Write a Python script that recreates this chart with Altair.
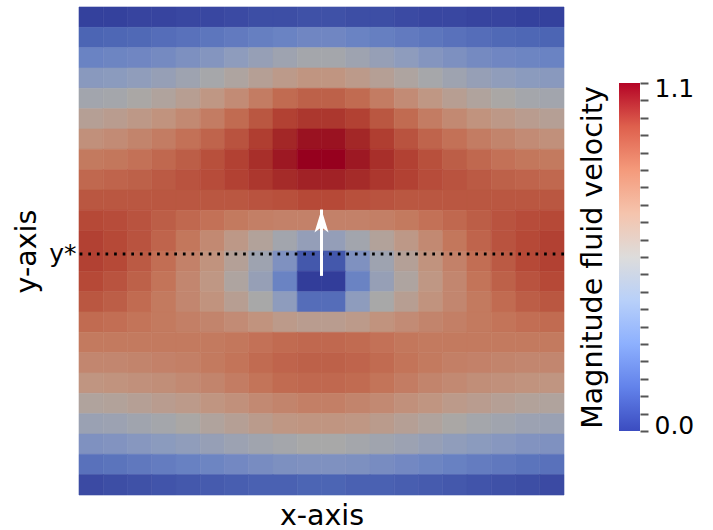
import altair as alt
import pandas as pd

# Velocity magnitude, 24 rows (top -> bottom) x 20 columns (left -> right)
values = [
    [0.03, 0.03, 0.04, 0.04, 0.05, 0.05, 0.06, 0.07, 0.07, 0.08, 0.08, 0.07, 0.07, 0.06, 0.05, 0.05, 0.04, 0.04, 0.03, 0.03],
    [0.14, 0.15, 0.16, 0.18, 0.20, 0.22, 0.24, 0.26, 0.28, 0.30, 0.30, 0.28, 0.26, 0.24, 0.22, 0.20, 0.18, 0.16, 0.15, 0.14],
    [0.28, 0.29, 0.30, 0.32, 0.35, 0.38, 0.42, 0.46, 0.50, 0.53, 0.53, 0.50, 0.46, 0.42, 0.38, 0.35, 0.32, 0.30, 0.29, 0.28],
    [0.40, 0.41, 0.43, 0.46, 0.50, 0.54, 0.58, 0.62, 0.66, 0.69, 0.69, 0.66, 0.62, 0.58, 0.54, 0.50, 0.46, 0.43, 0.41, 0.40],
    [0.52, 0.53, 0.56, 0.59, 0.63, 0.68, 0.73, 0.79, 0.85, 0.88, 0.88, 0.85, 0.79, 0.73, 0.68, 0.63, 0.59, 0.56, 0.53, 0.52],
    [0.62, 0.64, 0.67, 0.70, 0.74, 0.79, 0.85, 0.91, 0.97, 1.00, 1.00, 0.97, 0.91, 0.85, 0.79, 0.74, 0.70, 0.67, 0.64, 0.62],
    [0.71, 0.73, 0.76, 0.79, 0.83, 0.87, 0.92, 0.98, 1.04, 1.08, 1.08, 1.04, 0.98, 0.92, 0.87, 0.83, 0.79, 0.76, 0.73, 0.71],
    [0.80, 0.81, 0.83, 0.86, 0.89, 0.93, 0.97, 1.02, 1.07, 1.10, 1.10, 1.07, 1.02, 0.97, 0.93, 0.89, 0.86, 0.83, 0.81, 0.80],
    [0.86, 0.87, 0.88, 0.90, 0.92, 0.94, 0.97, 1.00, 1.03, 1.05, 1.05, 1.03, 1.00, 0.97, 0.94, 0.92, 0.90, 0.88, 0.87, 0.86],
    [0.91, 0.91, 0.91, 0.91, 0.91, 0.91, 0.91, 0.92, 0.93, 0.95, 0.95, 0.93, 0.92, 0.91, 0.91, 0.91, 0.91, 0.91, 0.91, 0.91],
    [0.95, 0.94, 0.92, 0.89, 0.86, 0.83, 0.80, 0.78, 0.77, 0.77, 0.77, 0.77, 0.78, 0.80, 0.83, 0.86, 0.89, 0.92, 0.94, 0.95],
    [0.97, 0.95, 0.92, 0.87, 0.81, 0.74, 0.67, 0.60, 0.52, 0.45, 0.45, 0.52, 0.60, 0.67, 0.74, 0.81, 0.87, 0.92, 0.95, 0.97],
    [0.97, 0.95, 0.90, 0.84, 0.77, 0.70, 0.61, 0.50, 0.36, 0.10, 0.10, 0.36, 0.50, 0.61, 0.70, 0.77, 0.84, 0.90, 0.95, 0.97],
    [0.95, 0.92, 0.88, 0.82, 0.75, 0.68, 0.58, 0.46, 0.28, 0.02, 0.02, 0.28, 0.46, 0.58, 0.68, 0.75, 0.82, 0.88, 0.92, 0.95],
    [0.91, 0.89, 0.85, 0.80, 0.75, 0.70, 0.63, 0.55, 0.42, 0.18, 0.18, 0.42, 0.55, 0.63, 0.70, 0.75, 0.80, 0.85, 0.89, 0.91],
    [0.85, 0.84, 0.82, 0.80, 0.78, 0.76, 0.73, 0.70, 0.66, 0.64, 0.64, 0.66, 0.70, 0.73, 0.76, 0.78, 0.80, 0.82, 0.84, 0.85],
    [0.80, 0.80, 0.80, 0.80, 0.80, 0.80, 0.81, 0.83, 0.85, 0.86, 0.86, 0.85, 0.83, 0.81, 0.80, 0.80, 0.80, 0.80, 0.80, 0.80],
    [0.75, 0.75, 0.76, 0.77, 0.78, 0.80, 0.82, 0.85, 0.87, 0.88, 0.88, 0.87, 0.85, 0.82, 0.80, 0.78, 0.77, 0.76, 0.75, 0.75],
    [0.69, 0.70, 0.71, 0.72, 0.74, 0.76, 0.79, 0.82, 0.85, 0.86, 0.86, 0.85, 0.82, 0.79, 0.76, 0.74, 0.72, 0.71, 0.70, 0.69],
    [0.59, 0.60, 0.62, 0.64, 0.66, 0.69, 0.71, 0.74, 0.76, 0.78, 0.78, 0.76, 0.74, 0.71, 0.69, 0.66, 0.64, 0.62, 0.60, 0.59],
    [0.48, 0.49, 0.51, 0.53, 0.56, 0.59, 0.62, 0.65, 0.68, 0.69, 0.69, 0.68, 0.65, 0.62, 0.59, 0.56, 0.53, 0.51, 0.49, 0.48],
    [0.36, 0.37, 0.39, 0.41, 0.43, 0.46, 0.49, 0.51, 0.53, 0.55, 0.55, 0.53, 0.51, 0.49, 0.46, 0.43, 0.41, 0.39, 0.37, 0.36],
    [0.20, 0.21, 0.23, 0.25, 0.27, 0.29, 0.31, 0.33, 0.35, 0.36, 0.36, 0.35, 0.33, 0.31, 0.29, 0.27, 0.25, 0.23, 0.21, 0.20],
    [0.06, 0.07, 0.08, 0.09, 0.10, 0.11, 0.12, 0.13, 0.13, 0.14, 0.14, 0.13, 0.13, 0.12, 0.11, 0.10, 0.09, 0.08, 0.07, 0.06],
]

y_star = [0.494]            # dotted reference line (fraction of the domain height)
arrow_x = [0.5]             # sphere centre / arrow
arrow_y_start = [0.449]
arrow_y_tip = [0.585]

vmin, vmax = 0.0, 1.1
colorbar_ticks = [0.0, 0.055, 0.11, 0.165, 0.22, 0.275, 0.33, 0.385, 0.44, 0.495, 0.55,
                  0.605, 0.66, 0.715, 0.77, 0.825, 0.88, 0.935, 0.99, 1.045, 1.1]

# shaded cool-to-warm used for the rendered field, plain cool-to-warm for the bar
field_stops = [0.0, 0.1375, 0.275, 0.4125, 0.55, 0.6875, 0.825, 0.9625, 1.1]
field_colors = ["#2d3796", "#4b64b4", "#6982c3", "#8c9bbe", "#a8a8a8",
                "#c09682", "#c37358", "#b44434", "#96001e"]
bar_offsets = [0.0, 0.125, 0.25, 0.375, 0.5, 0.625, 0.75, 0.875, 1.0]
bar_colors = ["#3b4cc0", "#6282ea", "#8db0fe", "#b8d0f9", "#dddcdb",
              "#f5c4ad", "#f49a7b", "#de604d", "#b40426"]

FONT = "DejaVu Sans"

n_rows = len(values)
n_cols = len(values[0])
records = []
for r, row in enumerate(values):
    for c, v in enumerate(row):
        records.append({
            "x0": c / n_cols, "x1": (c + 1) / n_cols,
            "y0": 1 - (r + 1) / n_rows, "y1": 1 - r / n_rows,
            "v": v,
        })
field_df = pd.DataFrame(records)

unit = alt.Scale(domain=[0, 1], nice=False, zero=False)
field_scale = alt.Scale(domain=field_stops, range=field_colors, interpolate="lab")

heat = alt.Chart(field_df).mark_rect(strokeWidth=0.6).encode(
    x=alt.X("x0:Q", scale=unit, axis=alt.Axis(
        title="x-axis", labels=False, ticks=False, domain=False, grid=False,
        titleFontSize=28.5, titleFontWeight="normal", titleColor="black", titlePadding=6)),
    x2="x1:Q",
    y=alt.Y("y0:Q", scale=unit, axis=alt.Axis(
        title="y-axis", values=y_star, labelExpr="'y*'", ticks=False, domain=False, grid=False,
        labelFontSize=25, labelColor="black", labelPadding=3,
        titleFontSize=28.5, titleFontWeight="normal", titleColor="black", titlePadding=7)),
    y2="y1:Q",
    color=alt.Color("v:Q", scale=field_scale, legend=None),
    stroke=alt.Stroke("v:Q", scale=field_scale, legend=None),
)

line_df = pd.DataFrame({"y0": y_star})
dotted = alt.Chart(line_df).mark_rule(color="black", strokeWidth=3, strokeDash=[2.7, 5.9]).encode(
    y=alt.Y("y0:Q")
)

arrow_df = pd.DataFrame({"x0": arrow_x, "y0": arrow_y_start, "y1": arrow_y_tip})
shaft = alt.Chart(arrow_df).mark_rule(color="white", strokeWidth=3).encode(
    x=alt.X("x0:Q"), y=alt.Y("y0:Q"), y2="y1:Q"
)
head = alt.Chart(arrow_df).mark_point(
    shape="M0,0 L0.55,1.8 L0,1.4 L-0.55,1.8 Z", filled=True, color="white", opacity=1, size=650
).encode(x=alt.X("x0:Q"), y=alt.Y("y1:Q"))

field_chart = alt.layer(heat, dotted, shaft, head).properties(width=485, height=488)

# colour bar
bar_df = pd.DataFrame({"lo": [vmin], "hi": [vmax], "a": [0.0], "b": [1.0]})
grad = alt.LinearGradient(
    gradient="linear", x1=0, x2=0, y1=1, y2=0,
    stops=[alt.GradientStop(color=c, offset=o) for o, c in zip(bar_offsets, bar_colors)],
)
bar_scale = alt.Scale(domain=[-0.2023, 1.3402], nice=False, zero=False)
bar_x = alt.X("a:Q", scale=alt.Scale(domain=[0, 1], nice=False, zero=False), axis=None)
bar_left = alt.Chart(bar_df).mark_rect(color=grad).encode(
    x=bar_x, x2="b:Q",
    y=alt.Y("lo:Q", scale=bar_scale, axis=alt.Axis(
        orient="left", title="Magnitude fluid velocity", labels=False, ticks=False,
        domain=False, grid=False, titleFontSize=28.5, titleFontWeight="normal",
        titleColor="black", titlePadding=12, titleY=250)),
    y2="hi:Q",
)
bar_right = alt.Chart(bar_df).mark_rect(color=grad).encode(
    x=bar_x, x2="b:Q",
    y=alt.Y("lo:Q", scale=bar_scale, axis=alt.Axis(
        orient="right", title=None, values=colorbar_ticks,
        labelExpr="datum.value < 0.01 ? '0.0' : (datum.value > 1.09 ? '1.1' : '')",
        domain=False, grid=False, ticks=True, tickSize=8, tickWidth=2, tickColor="#555555",
        labelFontSize=25, labelColor="black", labelPadding=6,
        labelOffset={"condition": {"test": "datum.value > 1.09", "value": 6}, "value": -5})),
    y2="hi:Q",
)
bar_chart = alt.layer(bar_left, bar_right).resolve_axis(y="independent").properties(width=21, height=488)

chart = alt.hconcat(field_chart, bar_chart, spacing=12).properties(
    padding={"left": 12, "top": 6, "right": 5, "bottom": 0}
).configure(font=FONT).configure_view(stroke=None)

chart.save("out.html", embed_options={"renderer": "svg", "actions": False})
